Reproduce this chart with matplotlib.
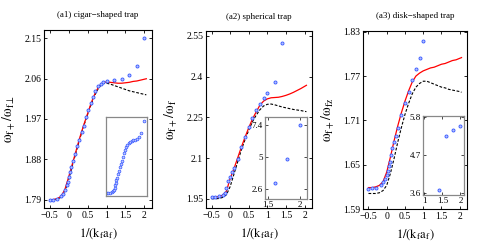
import matplotlib
matplotlib.use("Agg")
import matplotlib.pyplot as plt

plt.rcParams['font.family'] = ['Liberation Serif', 'DejaVu Serif']
plt.rcParams['mathtext.fontset'] = 'stix'

# ---------------- data ----------------
titles = ["(a1) cigar\u2212shaped trap", "(a2) spherical trap", "(a3) disk\u2212shaped trap"]
ylabels = [r"$\mathrm{\omega_{f+}/\omega_{f\perp}}$", r"$\mathrm{\omega_{f+}/\omega_{f}}$",
           r"$\mathrm{\omega_{f+}/\omega_{fz}}$"]
xlabel = r"$\mathrm{1/(k_f a_f)}$"
xticks = [-0.5, 0, 0.5, 1, 1.5, 2]
xticklabels = ["\u22120.5", "0", "0.5", "1", "1.5", "2"]
yticks1 = [1.79, 1.88, 1.97, 2.06, 2.15]
yticks2 = [1.95, 2.1, 2.25, 2.4, 2.55]
yticks3 = [1.59, 1.65, 1.71, 1.77, 1.83]
yticklabels1 = ["1.79", "1.88", "1.97", "2.06", "2.15"]
yticklabels2 = ["1.95", "2.1", "2.25", "2.4", "2.55"]
yticklabels3 = ["1.59", "1.65", "1.71", "1.77", "1.83"]

# theory curves (read at these x)
x_line = [-0.5, -0.4, -0.3, -0.2, -0.1, 0, 0.1, 0.2, 0.3, 0.4, 0.5, 0.6, 0.7, 0.8,
          0.9, 1.0, 1.1, 1.2, 1.3, 1.4, 1.5, 1.6, 1.7, 1.8, 1.9, 2.0, 2.05]
red1 = [1.789, 1.790, 1.792, 1.797, 1.812, 1.840, 1.870, 1.900, 1.930, 1.957, 1.982, 2.007, 2.028,
        2.043, 2.051, 2.053, 2.052, 2.051, 2.050, 2.050, 2.051, 2.052, 2.054, 2.055, 2.057, 2.059, 2.060]
black1 = [1.788, 1.789, 1.791, 1.795, 1.808, 1.834, 1.866, 1.897, 1.927, 1.955, 1.980, 2.004, 2.025,
          2.041, 2.049, 2.050, 2.048, 2.045, 2.042, 2.039, 2.036, 2.033, 2.031, 2.029, 2.027, 2.025, 2.024]
red2 = [1.955, 1.956, 1.958, 1.963, 1.978, 2.025, 2.060, 2.100, 2.140, 2.177, 2.212, 2.244, 2.270,
        2.295, 2.310, 2.318, 2.322, 2.323, 2.324, 2.327, 2.331, 2.336, 2.342, 2.349, 2.356, 2.364, 2.368]
black2 = [1.950, 1.950, 1.951, 1.955, 1.965, 1.995, 2.040, 2.085, 2.130, 2.168, 2.203, 2.234, 2.258,
          2.278, 2.292, 2.298, 2.299, 2.296, 2.292, 2.288, 2.285, 2.282, 2.279, 2.277, 2.275, 2.272, 2.271]
red3 = [1.619, 1.619, 1.620, 1.622, 1.627, 1.640, 1.660, 1.682, 1.702, 1.720, 1.736, 1.750, 1.762,
        1.770, 1.774, 1.777, 1.779, 1.781, 1.782, 1.784, 1.786, 1.787, 1.789, 1.791, 1.792, 1.794, 1.795]
black3 = [1.611, 1.611, 1.611, 1.612, 1.615, 1.622, 1.638, 1.658, 1.680, 1.700, 1.718, 1.733, 1.746,
          1.755, 1.760, 1.763, 1.763, 1.761, 1.759, 1.757, 1.755, 1.754, 1.752, 1.751, 1.750, 1.749, 1.748]

# simulation points
x_pts1 = [-0.5, -0.4, -0.3, -0.2, -0.15, -0.1, -0.05, -0.02, 0, 0.03, 0.07, 0.12, 0.16, 0.22, 0.28,
          0.34, 0.4, 0.46, 0.52, 0.58, 0.64, 0.7, 0.77, 0.85, 0.92, 1.0, 1.2, 1.4, 1.6, 1.8, 2.0]
y_pts1 = [1.789, 1.789, 1.791, 1.797, 1.803, 1.811, 1.822, 1.830, 1.840, 1.851, 1.863, 1.877, 1.892,
          1.909, 1.924, 1.941, 1.955, 1.974, 1.990, 2.005, 2.020, 2.033, 2.044, 2.049, 2.052, 2.055,
          2.057, 2.059, 2.068, 2.089, 2.150]
x_pts2 = [-0.5, -0.4, -0.3, -0.2, -0.15, -0.1, -0.05, 0, 0.05, 0.1, 0.2, 0.3, 0.4, 0.5, 0.6, 0.7,
          0.8, 0.9, 1.0, 1.2, 1.4]
y_pts2 = [1.956, 1.956, 1.959, 1.965, 1.973, 1.989, 2.014, 2.032, 2.047, 2.063, 2.096, 2.142, 2.177,
          2.216, 2.246, 2.277, 2.299, 2.320, 2.338, 2.381, 2.524]
x_pts3 = [-0.5, -0.4, -0.3, -0.15, -0.1, -0.05, 0, 0.03, 0.05, 0.08, 0.12, 0.15, 0.2, 0.25, 0.3,
          0.4, 0.5, 0.6, 0.7, 0.8, 0.9, 1.0]
y_pts3 = [1.617, 1.618, 1.618, 1.622, 1.626, 1.631, 1.636, 1.642, 1.648, 1.654, 1.663, 1.673, 1.681,
          1.689, 1.699, 1.717, 1.733, 1.749, 1.764, 1.779, 1.795, 1.817]

# insets
x_in1 = [-0.51, -0.40, -0.29, -0.18, -0.12, -0.05, -0.01, 0.035, 0.057, 0.10, 0.143, 0.21, 0.25,
         0.317, 0.38, 0.447, 0.53, 0.60, 0.663, 0.707, 0.793, 0.88, 0.967, 1.075, 1.183, 1.313,
         1.44, 1.57, 1.70, 1.89]
y_in1 = [1.793, 1.795, 1.797, 1.800, 1.805, 1.812, 1.821, 1.835, 1.846, 1.858, 1.871, 1.888, 1.901,
         1.921, 1.938, 1.954, 1.971, 1.991, 2.007, 2.021, 2.034, 2.042, 2.046, 2.050, 2.054, 2.057,
         2.060, 2.070, 2.090, 2.150]
x_in2 = [1.6, 1.8, 2.0]
y_in2 = [3.1, 4.85, 7.4]
x_in3 = [1.4, 1.6, 1.8, 2.0]
y_in3 = [3.70, 5.24, 5.41, 5.54]
in_xticks2 = [1.5, 2]
in_yticks2 = [2.6, 5, 7.4]
in_xticks3 = [1, 1.5, 2]
in_yticks3 = [3.6, 4.7, 5.8]

# ---------------- figure ----------------
W, H = 500, 245
fig = plt.figure(figsize=(W / 100, H / 100), dpi=100)

def rect(l, t, r, b):
    return [l / W, 1 - b / H, (r - l) / W, (b - t) / H]

main_rects = [rect(44, 30, 152, 208), rect(206, 31, 312, 208), rect(363, 31, 467, 209)]
inset_rects = [rect(106, 117, 147, 196), rect(265, 117, 307, 199), rect(423, 116, 464, 195)]
ylims = [(1.771, 2.169), (1.916, 2.568), (1.59, 1.831)]
yticks_all = [yticks1, yticks2, yticks3]
yticklabels_all = [yticklabels1, yticklabels2, yticklabels3]
reds = [red1, red2, red3]
blacks = [black1, black2, black3]
pts = [(x_pts1, y_pts1), (x_pts2, y_pts2), (x_pts3, y_pts3)]

blue = '#3355ff'
mk = dict(ls='none', marker='o', ms=2.2, mfc='#b4c0ff', mec=blue, mew=0.6)
for i in range(3):
    ax = fig.add_axes(main_rects[i])
    ax.plot(x_line, blacks[i], color='black', lw=0.8, ls=(0, (2.5, 1.5)))
    ax.plot(x_line, reds[i], color='red', lw=0.9)
    ax.plot(pts[i][0], pts[i][1], **mk)
    ax.set_xlim(-0.65, 2.2)
    ax.set_ylim(*ylims[i])
    ax.set_xticks(xticks)
    ax.set_xticklabels(xticklabels)
    ax.set_yticks(yticks_all[i])
    ax.set_yticklabels(yticklabels_all[i])
    ax.tick_params(direction='in', length=2.5, width=0.6, labelsize=7, top=True, right=True, pad=2)
    for s in ax.spines.values():
        s.set_linewidth(0.8)
    ax.set_title(titles[i], fontsize=6.5, pad=9)
    ax.set_ylabel(ylabels[i], fontsize=10, labelpad=5)
    ax.set_xlabel(xlabel, fontsize=9, labelpad=5)

# inset 1: no ticks
ia = fig.add_axes(inset_rects[0])
ia.plot(x_in1, y_in1, ls='none', marker='o', ms=2.0, mfc='#c0caff', mec=blue, mew=0.5)
ia.set_xlim(-0.55, 2.05)
ia.set_ylim(1.78, 2.17)
ia.set_xticks([])
ia.set_yticks([])

ia2 = fig.add_axes(inset_rects[1])
ia2.plot(x_in2, y_in2, **mk)
ia2.set_xlim(1.45, 2.11)
ia2.set_ylim(1.88, 8.0)
ia2.set_xticks(in_xticks2)
ia2.set_xticklabels(["1.5", "2"])
ia2.set_yticks(in_yticks2)
ia2.set_yticklabels(["2.6", "5", "7.4"])

ia3 = fig.add_axes(inset_rects[2])
ia3.plot(x_in3, y_in3, **mk)
ia3.set_xlim(0.96, 2.1)
ia3.set_ylim(3.55, 5.82)
ia3.set_xticks(in_xticks3)
ia3.set_xticklabels(["1", "1.5", "2"])
ia3.set_yticks(in_yticks3)
ia3.set_yticklabels(["3.6", "4.7", "5.8"])

for a in (ia, ia2, ia3):
    a.tick_params(direction='in', length=2, width=0.5, labelsize=6.5, top=True, right=True, pad=1.5)
    for s in a.spines.values():
        s.set_color('#888888')
        s.set_linewidth(0.9)
    a.set_facecolor('white')

fig.savefig("out.png", dpi=100)
